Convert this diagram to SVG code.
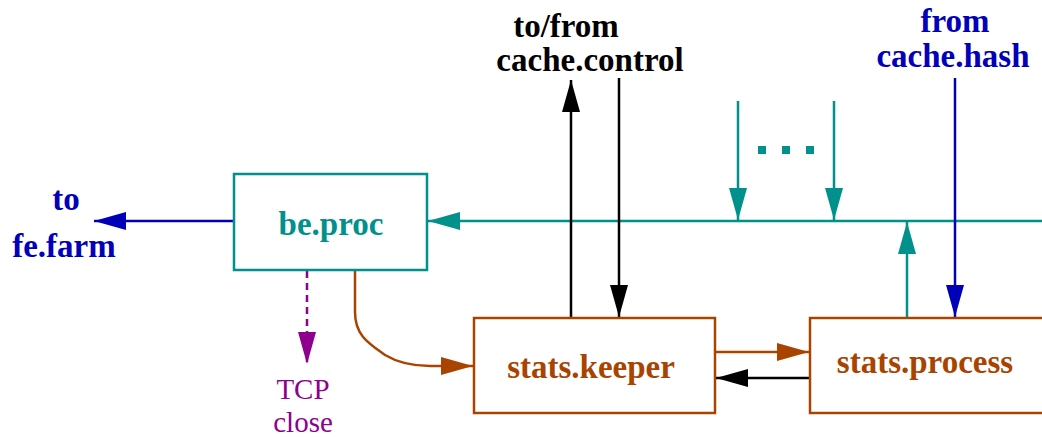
<svg xmlns="http://www.w3.org/2000/svg" width="1042" height="437" viewBox="0 0 1042 437">
<style>
text{font-family:"Liberation Serif","Times New Roman",serif;font-weight:bold;font-size:33px;text-anchor:middle}
.teal{fill:#00918c}.blue{fill:#0000b8}.brown{fill:#a84400}.black{fill:#000}.purple{fill:#8e008e;font-weight:normal;font-size:29px}
.box{fill:none;stroke-width:2.5}
.ln{fill:none;stroke-width:2.5}
</style>
<defs>
<marker id="aTeal" markerUnits="userSpaceOnUse" markerWidth="34" markerHeight="20" refX="32" refY="9" orient="auto"><path d="M0,0 L32,9 L0,18 Z" fill="#00918c"/></marker>
<marker id="aBlue" markerUnits="userSpaceOnUse" markerWidth="34" markerHeight="20" refX="32" refY="9" orient="auto"><path d="M0,0 L32,9 L0,18 Z" fill="#0000b8"/></marker>
<marker id="aBlack" markerUnits="userSpaceOnUse" markerWidth="34" markerHeight="20" refX="32" refY="9" orient="auto"><path d="M0,0 L32,9 L0,18 Z" fill="#000"/></marker>
<marker id="aBrown" markerUnits="userSpaceOnUse" markerWidth="34" markerHeight="20" refX="32" refY="9" orient="auto"><path d="M0,0 L32,9 L0,18 Z" fill="#a84400"/></marker>
<marker id="aPurple" markerUnits="userSpaceOnUse" markerWidth="34" markerHeight="20" refX="32" refY="9" orient="auto"><path d="M0,0 L32,9 L0,18 Z" fill="#8e008e"/></marker>
</defs>
<g id="connectors">
<line class="ln" x1="234" y1="221" x2="94" y2="221" stroke="#0000b8" marker-end="url(#aBlue)"/>
<line class="ln" x1="1042" y1="221" x2="428" y2="221" stroke="#00918c" marker-end="url(#aTeal)"/>
<line class="ln" x1="571" y1="318" x2="571" y2="80" stroke="#000" marker-end="url(#aBlack)"/>
<line class="ln" x1="619" y1="78" x2="619" y2="317" stroke="#000" marker-end="url(#aBlack)"/>
<line class="ln" x1="738" y1="101" x2="738" y2="220" stroke="#00918c" marker-end="url(#aTeal)"/>
<line class="ln" x1="834" y1="101" x2="834" y2="220" stroke="#00918c" marker-end="url(#aTeal)"/>
<line class="ln" x1="907" y1="318" x2="907" y2="222" stroke="#00918c" marker-end="url(#aTeal)"/>
<line class="ln" x1="955" y1="78" x2="955" y2="317" stroke="#0000b8" marker-end="url(#aBlue)"/>
<line class="ln" x1="715" y1="352" x2="809" y2="352" stroke="#a84400" marker-end="url(#aBrown)"/>
<line class="ln" x1="810" y1="378" x2="716" y2="378" stroke="#000" marker-end="url(#aBlack)"/>
<line class="ln" x1="307" y1="271" x2="307" y2="364" stroke="#8e008e" stroke-dasharray="7,5" marker-end="url(#aPurple)"/>
<path class="ln" d="M355,270 L355,312 C355,335 368,343 385,355 C400,364 415,366 430,366 L473,366" stroke="#a84400" marker-end="url(#aBrown)"/>
<g fill="#00918c"><rect x="758" y="146" width="8" height="8"/><rect x="782" y="146" width="8" height="8"/><rect x="806" y="146" width="8" height="8"/></g>
</g>
<g id="be_proc"><rect class="box" x="234" y="174" width="193" height="96" stroke="#00918c"/><text class="teal" x="331" y="235">be.proc</text></g>
<g id="stats_keeper"><rect class="box" x="474" y="318" width="241" height="95" stroke="#a84400"/><text class="brown" x="591" y="378">stats.keeper</text></g>
<g id="stats_process"><rect class="box" x="810" y="318" width="240" height="95" stroke="#a84400"/><text class="brown" x="925" y="373">stats.process</text></g>
<g id="fe_farm"><text class="blue" x="66" y="210">to</text><text class="blue" x="64" y="257">fe.farm</text></g>
<g id="cache_control"><text class="black" x="566" y="37">to/from</text><text class="black" x="590" y="71">cache.control</text></g>
<g id="cache_hash"><text class="blue" x="955" y="32">from</text><text class="blue" x="953" y="67">cache.hash</text></g>
<g id="tcp_close"><text class="purple" x="303" y="399">TCP</text><text class="purple" x="303" y="432">close</text></g>
</svg>
